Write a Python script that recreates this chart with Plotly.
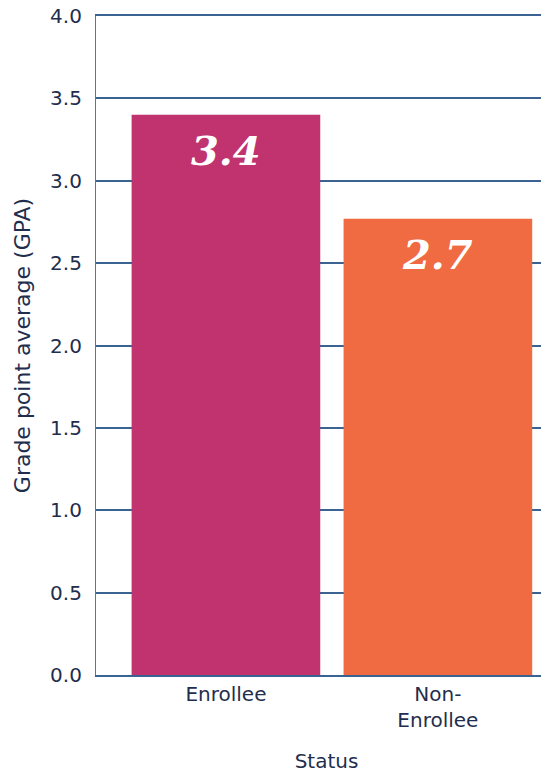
import plotly.graph_objects as go

# data
status = ["Enrollee", "Non-<br>Enrollee"]
gpa = [3.40, 2.77]
gpa_labels = ["3.4", "2.7"]
bar_colors = ["#c0336f", "#f06a42"]

ink = "#1f2e4d"
grid = "#3b6391"
sans = "DejaVu Sans"

fig = go.Figure()
fig.add_trace(go.Bar(
    x=status, y=gpa,
    marker=dict(color=bar_colors, line=dict(width=0)),
    hoverinfo="skip",
))

# value labels a little below each bar top
for s, v, t in zip(status, gpa, gpa_labels):
    fig.add_annotation(
        x=s, y=v, text="<b><i>" + t + "</i></b>", showarrow=False,
        yanchor="top", yshift=-10,
        font=dict(family="DejaVu Serif", size=40, color="white"),
    )

# page body has an 8px margin, so the plot box is nudged up/left to compensate
fig.update_layout(
    width=549, height=774,
    margin=dict(l=88, r=0, t=8, b=107),
    plot_bgcolor="white", paper_bgcolor="white",
    bargap=0.11,
    showlegend=False,
    font=dict(family=sans, color=ink, size=20),
)
fig.update_xaxes(
    range=[-0.613, 1.562], automargin=False,
    showgrid=False, ticks="",
    showline=True, mirror=True, linecolor=grid, linewidth=1.5,
    tickfont=dict(size=20, color=ink),
    title=dict(text="Status", font=dict(size=20, color=ink), standoff=23),
)
fig.update_yaxes(
    range=[0, 4.0], dtick=0.5, tickformat=".1f", automargin=False,
    showgrid=True, gridcolor=grid, gridwidth=1.5,
    showline=True, linecolor="#5a76a0", linewidth=1.2,
    zeroline=False,
    ticks="", ticklabelstandoff=9, ticklabeloverflow="allow",
    tickfont=dict(size=20, color=ink),
    title=dict(text="Grade point average (GPA)", font=dict(size=22, color=ink), standoff=13),
)

fig.write_html("out.html")
